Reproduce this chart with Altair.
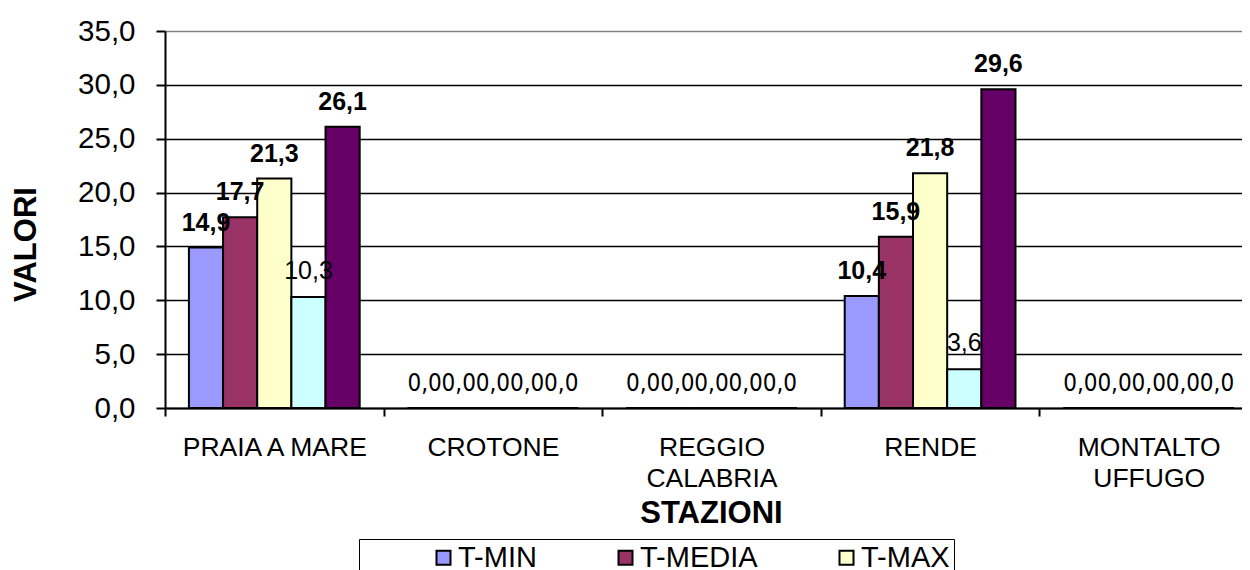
import altair as alt
import pandas as pd

stations = ["PRAIA A MARE", "CROTONE", "REGGIO CALABRIA", "RENDE", "MONTALTO UFFUGO"]
series = ["T-MIN", "T-MEDIA", "T-MAX", "T-MIN ASSOLUTA", "T-MAX ASSOLUTA"]
t_min = [14.9, 0.0, 0.0, 10.4, 0.0]
t_media = [17.7, 0.0, 0.0, 15.9, 0.0]
t_max = [21.3, 0.0, 0.0, 21.8, 0.0]
t_min_ass = [10.3, 0.0, 0.0, 3.6, 0.0]
t_max_ass = [26.1, 0.0, 0.0, 29.6, 0.0]
colors = ["#9999FF", "#993366", "#FFFFCC", "#CCFFFF", "#660066"]
y_ticks = [0, 5, 10, 15, 20, 25, 30, 35]

rows = []
for s, vals in zip(series, [t_min, t_media, t_max, t_min_ass, t_max_ass]):
    for st, v in zip(stations, vals):
        rows.append({"stazione": st, "serie": s, "valore": v})
df = pd.DataFrame(rows)

FONT = "Liberation Sans"
NARROW = "'DejaVu Sans Condensed', 'Liberation Sans Narrow', 'Liberation Sans'"
comma = "replace(format(datum.valore, '.1f'), '.', ',')"

x_enc = alt.X(
    "stazione:N", sort=stations,
    scale=alt.Scale(range=[0, 1093], paddingInner=0, paddingOuter=0),
    axis=alt.Axis(
        title="STAZIONI", titleFont=FONT, titleFontSize=31, titleFontWeight="bold",
        titleColor="black", titleBaseline="alphabetic", titleX=546, titleY=114,
        labelAngle=0, labelFont=FONT, labelFontSize=26.5, labelColor="black",
        labelBaseline="alphabetic", labelPadding=39, labelLineHeight=31, labelLimit=400,
        labelExpr="indexof(['REGGIO CALABRIA', 'MONTALTO UFFUGO'], datum.label) >= 0 ? split(datum.label, ' ') : datum.label",
        tickBand="extent", tickSize=8, tickColor="black", tickWidth=2,
        domainColor="black", domainWidth=2, grid=False,
    ),
)
xoff_enc = alt.XOffset("serie:N", sort=series, scale=alt.Scale(paddingInner=0, paddingOuter=0.7))
y_enc = alt.Y(
    "valore:Q",
    scale=alt.Scale(domain=[0, 35], nice=False),
    axis=alt.Axis(
        values=y_ticks, title="VALORI", titleFont=FONT, titleFontSize=31, titleFontWeight="bold",
        titleColor="black", titleX=-139, titleY=213, titleAlign="center", titleBaseline="middle",
        titleAngle=270,
        labelFont=FONT, labelFontSize=29.5, labelColor="black", labelPadding=21,
        labelExpr="replace(format(datum.value, '.1f'), '.', ',')",
        tickSize=9, tickColor="black", tickWidth=2,
        domainColor="black", domainWidth=2,
        grid=True, gridWidth=1.5, gridOpacity=1,
        gridColor={"condition": {"test": "datum.value >= 35", "value": "#808080"}, "value": "black"},
    ),
)

base = alt.Chart(df)

bars = base.mark_bar(stroke="black", strokeWidth=2).encode(
    x=x_enc, xOffset=xoff_enc, y=y_enc,
    color=alt.Color(
        "serie:N", scale=alt.Scale(domain=series, range=colors),
        legend=alt.Legend(
            title=None, orient="none", legendX=194, legendY=508,
            values=series[:3],
            direction="horizontal", columns=3,
            labelFont=FONT, labelFontSize=29, labelColor="black", labelLimit=400,
            symbolType="square", symbolSize=196, symbolStrokeColor="black",
            symbolStrokeWidth=2, symbolOpacity=1,
            fillColor="white", strokeColor="black", padding=4,
            columnPadding=8, labelOffset=0, symbolOffset=66, rowPadding=10,
        ),
    ),
)

labels_bold = base.transform_filter(
    (alt.datum.valore > 0) & (alt.datum.serie != "T-MIN ASSOLUTA")
).transform_calculate(label=comma).mark_text(
    font=FONT, fontSize=25, fontWeight="bold", baseline="alphabetic", dy=-17, color="black"
).encode(x=x_enc, xOffset=xoff_enc, y=y_enc, text="label:N")

labels_reg = base.transform_filter(
    (alt.datum.valore > 0) & (alt.datum.serie == "T-MIN ASSOLUTA")
).transform_calculate(label=comma).mark_text(
    font=FONT, fontSize=25, fontWeight="normal", baseline="alphabetic", dy=-18, color="black"
).encode(x=x_enc, xOffset=xoff_enc, y=y_enc, text="label:N")

labels_zero = base.transform_filter(
    alt.datum.valore == 0
).transform_calculate(label=comma).mark_text(
    font=NARROW, fontSize=24, fontWeight="normal", baseline="alphabetic", dy=-17, color="black"
).encode(x=x_enc, xOffset=xoff_enc, y=y_enc, text="label:N")

chart = alt.layer(bars, labels_bold, labels_reg, labels_zero).properties(
    width=1077, height=377,
    autosize=alt.AutoSizeParams(type="none"),
    padding={"left": 157, "top": 23, "right": 0, "bottom": 162},
).configure_view(
    fill="#C0C0C0", stroke="#808080", strokeWidth=2
).configure(background="white")

chart.save("out.html", embed_options={"renderer": "svg", "actions": False})
